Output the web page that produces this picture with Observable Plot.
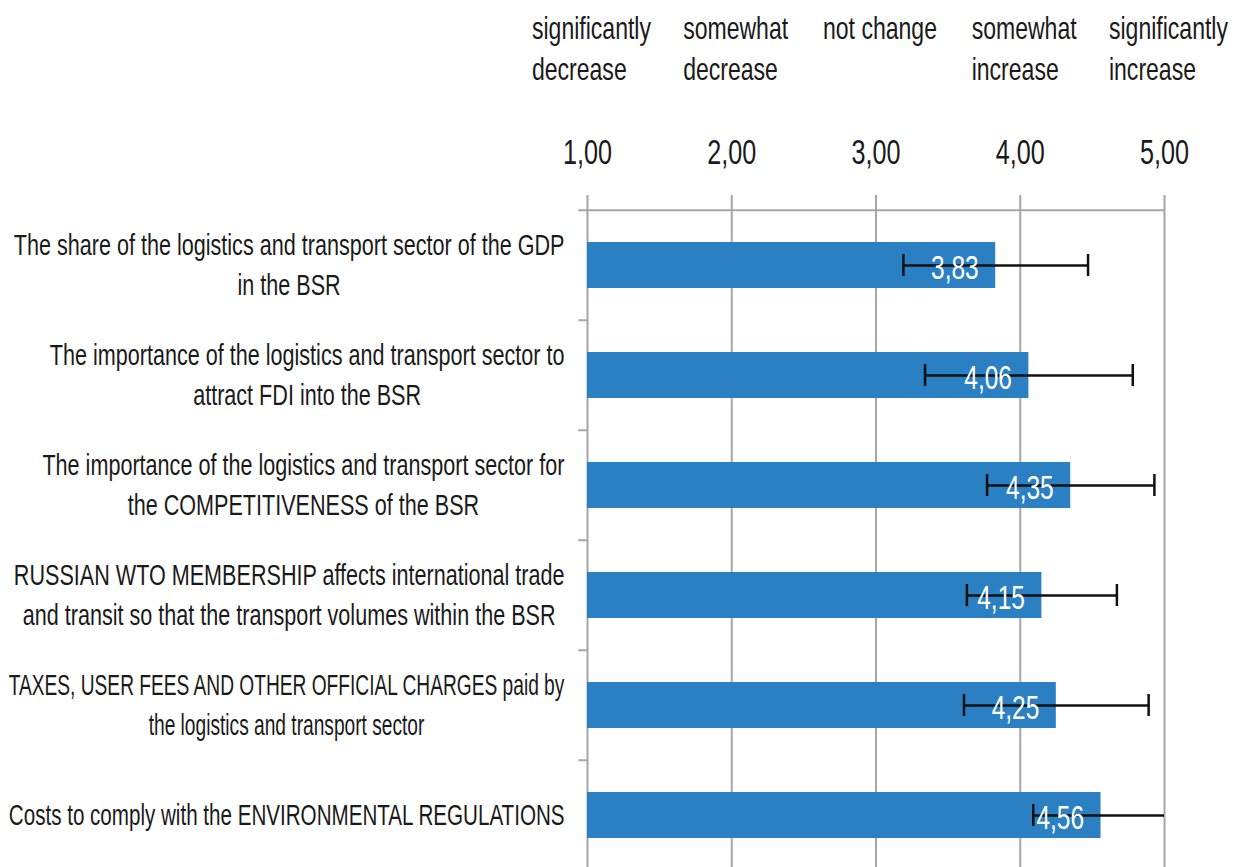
<!DOCTYPE html>
<html><head><meta charset="utf-8">
<script src="https://cdn.jsdelivr.net/npm/d3@7"></script>
<script src="https://cdn.jsdelivr.net/npm/@observablehq/plot@0.6"></script>
<style>
html,body{margin:0;padding:0;background:#fff;overflow:hidden;}
</style></head><body><div id="chart"></div>
<script>
const categories = [
  "The share of the logistics and transport sector of the GDP\nin the BSR",
  "The importance of the logistics and transport sector to\nattract FDI into the BSR",
  "The importance of the logistics and transport sector for\nthe COMPETITIVENESS of the BSR",
  "RUSSIAN WTO MEMBERSHIP affects international trade\nand transit so that the transport volumes within the BSR",
  "TAXES, USER FEES AND OTHER OFFICIAL CHARGES paid by\nthe logistics and transport sector",
  "Costs to comply with the ENVIRONMENTAL REGULATIONS"
];
const means = [3.83, 4.06, 4.35, 4.15, 4.25, 4.56];
const sds = [0.64, 0.72, 0.58, 0.52, 0.64, 0.47];
const scalePoints = [1, 2, 3, 4, 5];
const scaleLabels = ["significantly\ndecrease", "somewhat\ndecrease", "not change", "somewhat\nincrease", "significantly\nincrease"];

const rows = categories.map((c, i) => ({cat: c, mean: means[i], lo: means[i] - sds[i], hi: means[i] + sds[i]}));
const fmt = v => v.toFixed(2).replace(".", ",");

const W = 1256, H = 871, MT = 208, MB = 0;
const step = (H - MT - MB) / categories.length;
const grid = "#a6a6a6";
const sx = 0.72;
const labelGap = 23;
const labelMaxWidth = 556;

const plot = Plot.plot({
  width: W, height: H,
  marginTop: MT, marginBottom: MB, marginLeft: 587, marginRight: 92,
  x: {domain: [1, 5], axis: null},
  y: {domain: categories, padding: 0, axis: null},
  style: {fontFamily: "'Liberation Sans', Arial, sans-serif", background: "white", color: "#1a1a1a"},
  marks: [
    Plot.ruleX(scalePoints, {x: d => d, stroke: grid, strokeWidth: 2, insetTop: -13}),
    Plot.ruleY(categories.slice(0, 1), {y: d => d, dy: -step / 2, x1: 0.94, x2: 5, stroke: grid, strokeWidth: 2}),
    Plot.ruleY(categories.slice(1), {y: d => d, dy: -step / 2, x1: 0.94, x2: 1, stroke: grid, strokeWidth: 2}),
    Plot.barX(rows, {x1: 1, x2: "mean", y: "cat", fill: "#2a80c2", insetTop: 32, insetBottom: 32}),
    Plot.ruleY(rows, {y: "cat", x1: "lo", x2: "hi", stroke: "#111", strokeWidth: 2.5, clip: true}),
    Plot.tickX(rows, {x: "lo", y: "cat", stroke: "#111", strokeWidth: 2.5, insetTop: 44, insetBottom: 44, clip: true}),
    Plot.tickX(rows, {x: "hi", y: "cat", stroke: "#111", strokeWidth: 2.5, insetTop: 44, insetBottom: 44, clip: true}),
    Plot.text(rows, {x: "mean", y: "cat", text: d => fmt(d.mean), textAnchor: "end", dx: -17, dy: 3, fill: "white", fontSize: 34}),
    Plot.axisX({anchor: "top", ticks: scalePoints, tickFormat: fmt, tickSize: 0, tickPadding: 45, fontSize: 35, label: null, fill: "#1a1a1a"}),
    Plot.text(categories, {y: d => d, text: d => d, frameAnchor: "left", textAnchor: "middle", dx: -labelGap, dy: -3, fontSize: 30, lineHeight: 1.33, fill: "#1a1a1a"}),
    Plot.text(scalePoints, {x: d => d, text: (d, i) => scaleLabels[i], frameAnchor: "top", textAnchor: "start", lineAnchor: "top", dy: -199, fontSize: 32, lineHeight: 1.28, fill: "#1a1a1a"})
  ]
});

document.getElementById("chart").append(plot);

const textGroups = plot.querySelectorAll('g[aria-label="text"]');
const catTexts = new Set(textGroups[1].querySelectorAll("text"));

// condensed look: squeeze all text horizontally around its anchor
plot.querySelectorAll("text").forEach(el => {
  const t = el.getAttribute("transform") || "";
  const x = el.x && el.x.baseVal && el.x.baseVal.length ? el.x.baseVal[0].value : 0;
  let k = sx;
  if (catTexts.has(el)) k = Math.min(sx, labelMaxWidth / el.getBBox().width);
  el.dataset.k = k;
  el.setAttribute("transform", `${t} translate(${x},0) scale(${k},1) translate(${-x},0)`);
});
// category labels: centred lines, block right-aligned next to the axis
textGroups[1].querySelectorAll("text").forEach(el => {
  const w = el.getBBox().width * (+el.dataset.k);
  el.setAttribute("transform", `translate(${-w / 2},0) ` + el.getAttribute("transform"));
});
// scale labels: left-aligned lines, block centred on the tick
textGroups[2].querySelectorAll("text").forEach(el => {
  const w = el.getBBox().width * (+el.dataset.k);
  el.setAttribute("transform", `translate(${-w / 2 + 4},0) ` + el.getAttribute("transform"));
});
</script>
</body></html>
